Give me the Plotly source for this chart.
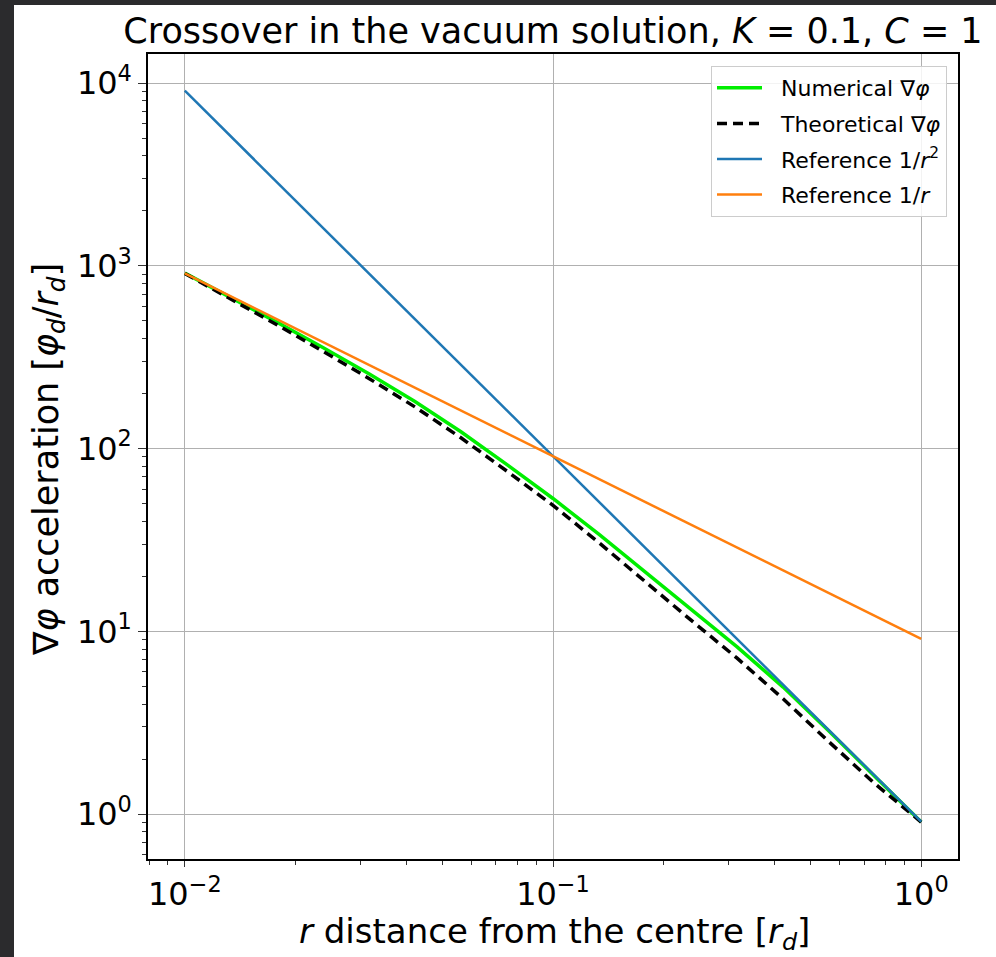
import plotly.graph_objects as go

# ---- data ----
r_vals = [0.01, 0.01334, 0.01778, 0.02371, 0.03162, 0.04217, 0.05623, 0.07499,
          0.1, 0.1334, 0.1778, 0.2371, 0.3162, 0.4217, 0.5623, 0.7499, 0.866, 1.0]
numerical = [912, 673, 492, 357, 257, 181, 123.6, 81.7,
             53.3, 33.9, 21.1, 13.2, 8.22, 4.95, 2.84, 1.60, 1.20, 0.904]
theoretical = [908, 661, 476, 341, 242, 169, 114.5, 75.2,
               48.9, 30.5, 18.7, 11.5, 7.13, 4.27, 2.48, 1.46, 1.15, 0.904]
ref_r = [0.01, 1.0]
ref_inv_r2 = [9080, 0.908]
ref_inv_r = [908, 9.08]

x_tickvals = [0.01, 0.1, 1]
x_ticktext = ["10<sup>−2</sup>", "10<sup>−1</sup>", "10<sup>0</sup>"]
y_tickvals = [1, 10, 100, 1000, 10000]
y_ticktext = ["10<sup>0</sup>", "10<sup>1</sup>", "10<sup>2</sup>", "10<sup>3</sup>", "10<sup>4</sup>"]

x_minor = [m * 10 ** e for e in (-3, -2, -1, 0) for m in range(2, 10)]
y_minor = [m * 10 ** e for e in (-1, 0, 1, 2, 3, 4) for m in range(2, 10)]

FONT = "DejaVu Sans"
PAD = "\u00a0\u00a0"

fig = go.Figure()
fig.add_trace(go.Scatter(x=r_vals, y=numerical, mode="lines", name=PAD + "Numerical ∇<i>φ</i>",
                         line=dict(color="#00ee00", width=3.5), legendgroup="a"))
fig.add_trace(go.Scatter(x=r_vals, y=theoretical, mode="lines", name=PAD + "Theoretical ∇<i>φ</i>",
                         line=dict(color="black", width=3.5, dash="10px,6px"), legendgroup="b"))
fig.add_trace(go.Scatter(x=ref_r, y=ref_inv_r2, mode="lines", name=PAD + "Reference 1/<i>r</i><sup>2</sup>",
                         line=dict(color="#1f77b4", width=2.5), legendgroup="c"))
fig.add_trace(go.Scatter(x=ref_r, y=ref_inv_r, mode="lines", name=PAD + "Reference 1/<i>r</i>",
                         line=dict(color="#ff7f0e", width=2.5), legendgroup="d"))

W, H = 996, 957
L, R, T, B = 148, 38, 54, 98
pw, ph = W - L - R, H - T - B

def px2paper_x(px):
    return (px - L) / pw

def px2paper_y(py):
    return (H - B - py) / ph

axis_common = dict(
    type="log", showgrid=True, gridcolor="#b0b0b0", gridwidth=1,
    showline=True, linecolor="black", linewidth=1.5, mirror=True,
    ticks="outside", tickwidth=1.3, tickcolor="#333",
    tickfont=dict(family=FONT, size=32, color="black"),
    tickmode="array", zeroline=False,
)

fig.update_xaxes(**axis_common, ticklen=6, range=[-2.1, 0.1], tickvals=x_tickvals, ticktext=x_ticktext,
                 minor=dict(tickmode="array", tickvals=x_minor, ticks="outside", ticklen=4,
                            tickwidth=1, tickcolor="#333", showgrid=False))
fig.update_yaxes(**axis_common, ticklen=8, range=[-0.246, 4.159], tickvals=y_tickvals, ticktext=y_ticktext,
                 minor=dict(tickmode="array", tickvals=y_minor, ticks="outside", ticklen=4,
                            tickwidth=1, tickcolor="#333", showgrid=False))

fig.update_layout(
    width=W, height=H,
    margin=dict(l=L, r=R, t=T, b=B, pad=0),
    paper_bgcolor="#2b2b2d", plot_bgcolor="white",
    title=dict(text="Crossover in the vacuum solution, <i>K</i> = 0.1, <i>C</i> = 1",
               x=px2paper_x(553), xref="paper", xanchor="center",
               y=1 - 31 / H, yref="container", yanchor="middle",
               font=dict(family=FONT, size=35, color="black")),
    legend=dict(x=px2paper_x(947), y=px2paper_y(66), xanchor="right", yanchor="top",
                bgcolor="rgba(255,255,255,0.85)", bordercolor="#cccccc", borderwidth=1,
                font=dict(family=FONT, size=22, color="black"), tracegroupgap=4,
                itemwidth=45),
    showlegend=True,
    shapes=[dict(type="rect", xref="paper", yref="paper", layer="below",
                 x0=px2paper_x(14), x1=px2paper_x(W + 5), y0=px2paper_y(H + 5), y1=px2paper_y(5),
                 fillcolor="white", line=dict(width=0))],
    annotations=[
        dict(text="<i>r</i> distance from the centre [<i>r</i><sub><i>d</i></sub>]",
             xref="paper", yref="paper", x=px2paper_x(554), y=px2paper_y(933),
             xanchor="center", yanchor="middle", showarrow=False,
             font=dict(family=FONT, size=34, color="black")),
        dict(text="∇<i>φ</i> acceleration [<i>φ</i><sub><i>d</i></sub>/<i>r</i><sub><i>d</i></sub>]",
             xref="paper", yref="paper", x=px2paper_x(48), y=px2paper_y(460),
             xanchor="center", yanchor="middle", showarrow=False, textangle=-90,
             font=dict(family=FONT, size=35, color="black")),
    ],
)

fig.write_html("out.html", config={"displayModeBar": False},
               post_script="document.body.style.margin='0';document.body.style.overflow='hidden';")
